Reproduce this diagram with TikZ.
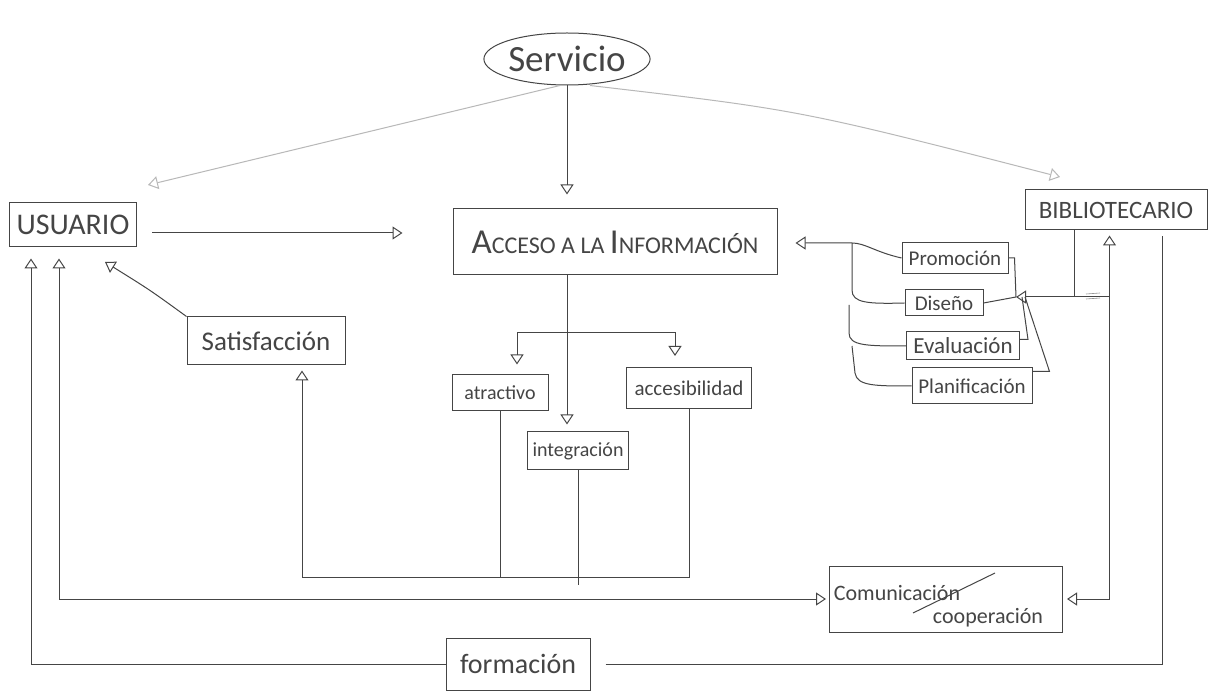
\documentclass[tikz,border=0pt]{standalone}
\usepackage{fontspec}
\setmainfont{Carlito}
\usetikzlibrary{arrows.meta,shapes.geometric}
\definecolor{pencil}{HTML}{454545}
\definecolor{faint}{HTML}{B8B8B8}
\begin{document}
\begin{tikzpicture}[x=1pt,y=-1pt,
  box/.style={draw=pencil,line width=1pt,rectangle,inner sep=0pt,text=pencil},
  wire/.style={draw=pencil,line width=1pt},
  ghost/.style={draw=faint,line width=1pt},
  tip/.style={-{Triangle[open,length=10pt,width=13pt]}},
  tips/.style={{Triangle[open,length=10pt,width=13pt]}-{Triangle[open,length=10pt,width=13pt]}},
  fs/.style={font=\fontsize{#1}{#1}\selectfont}
]
\fill[white] (0,0) rectangle (1211,692);
\useasboundingbox (0,0) rectangle (1211,692);

% ---------- nodes ----------
\node[draw=pencil,line width=1pt,ellipse,minimum width=166pt,minimum height=52pt,
      inner sep=0pt,fs=37,text=pencil] (serv) at (567,59) {Servicio};
\node[box,minimum width=324pt,minimum height=66pt] (acc) at (615,242)
  {\fontsize{35}{35}\selectfont A\fontsize{24}{24}\selectfont CCESO A LA
   \fontsize{35}{35}\selectfont I\fontsize{24}{24}\selectfont NFORMACIÓN};
\node[box,minimum width=127pt,minimum height=44pt,fs=30] (usu) at (73,225) {USUARIO};
\node[box,minimum width=182pt,minimum height=40pt,fs=25] (bib) at (1116,210) {BIBLIOTECARIO};
\node[box,minimum width=158pt,minimum height=48pt,fs=27] (sat) at (266,341) {Satisfacción};
\node[box,minimum width=96pt,minimum height=36pt,fs=20] (atr) at (500,393) {atractivo};
\node[box,minimum width=125pt,minimum height=41pt,fs=21] (acs) at (689,388) {accesibilidad};
\node[box,minimum width=101pt,minimum height=38pt,fs=20] (intg) at (578,451) {integración};
\node[box,minimum width=106pt,minimum height=31pt,fs=21] (prom) at (955,258) {Promoción};
\node[box,minimum width=78pt,minimum height=26pt,fs=21] (dis) at (944,303) {Diseño};
\node[box,minimum width=113pt,minimum height=28pt,fs=23] (eva) at (963,346) {Evaluación};
\node[box,minimum width=120pt,minimum height=36pt,fs=21] (plan) at (972,386) {Planificación};
\node[box,minimum width=233pt,minimum height=66pt] (com) at (946,599) {};
\node[fs=22,text=pencil,inner sep=0pt] (comA) at (897,593) {Comunicación};
\node[fs=22,text=pencil,inner sep=0pt] (comB) at (988,618) {cooperación};
\node[box,minimum width=144pt,minimum height=52pt,fs=28] (form) at (518,664) {formación};

% ---------- Servicio and its three branches ----------
\coordinate (usuTop) at (148,185);
\coordinate (bibTop) at (1060,177);
\draw[ghost,tip] ([xshift=-7pt]serv.south) -- (usuTop);
\draw[ghost,tip] ([xshift=23pt]serv.south) .. controls (800,110) .. (bibTop);
\draw[wire,tip,shorten >=14pt] (serv.south) -- (serv.south |- acc.north);

% ---------- USUARIO ----------
\draw[wire,tip,shorten <=15pt,shorten >=50pt] ([yshift=-8pt]usu.east) -- ([yshift=-8pt]usu.east -| acc.west);
\coordinate (usuSat) at (105,262);
\draw[wire,tip] (sat.north west) .. controls (150,290) .. (usuSat);
\draw[wire,tip,shorten >=11pt] (form.west) -| ([xshift=22pt]usu.south west);
\draw[wire,tips,shorten <=11pt,shorten >=3pt] ([xshift=50pt]usu.south west) |- (com.west);

% ---------- Acceso a la información: fork and return bus ----------
\coordinate (fork) at (0,333);
\coordinate (bus) at (0,577);
\draw[wire,tip,shorten >=7pt] (serv.south |- acc.south) -- (serv.south |- intg.north);
\draw[wire,tip,shorten >=10pt] (serv.south |- fork) -| ([xshift=17pt]atr.north);
\draw[wire,tip,shorten >=11pt] (serv.south |- fork) -| ([xshift=-14pt]acs.north);
\draw[wire,tip,shorten >=5pt] (acs.south) -- (acs.south |- bus) -| ([xshift=36pt]sat.south);
\draw[wire] (atr.south) -- (atr.south |- bus);
\draw[wire] (intg.south) -- ([yshift=-8pt]intg.south |- bus);

% ---------- activity group ----------
\coordinate (brk) at (852,243);
\draw[wire,tip,shorten >=18pt] (prom.west) .. controls (875,252) and (865,243) .. (brk) -- (acc.east |- brk);
\draw[wire] (brk) -- (852,290) .. controls (852,303) and (868,304) .. (dis.west);
\draw[wire] (849,305) -- (849,333) .. controls (849,346) and (868,346) .. (eva.west);
\draw[wire] (852,346) -- (855,373) .. controls (857,386) and (875,386) .. (plan.west);

\coordinate (grp) at (1016,297);
\draw[wire,tip] ([xshift=50pt]bib.south west) |- (grp);
\draw[wire] ([xshift=50pt]bib.south west |- grp) -- ([xshift=85pt]bib.south west |- grp);
\draw[pencil!60,line width=0.6pt] (1086,294) -- (1100,293) (1086,299) -- (1100,298);
\draw[wire] (prom.east) -- ++(6,0) -- (grp);
\draw[wire] (dis.east) -- (grp);
\draw[wire] ([yshift=-8pt]eva.north east) -- ++(8,0) -- ([xshift=6pt]grp);
\draw[wire] ([yshift=-4pt]plan.north east) -- ++(17,0) -- ([xshift=9pt]grp);

% ---------- BIBLIOTECARIO to Comunicación and formación ----------
\draw[wire,tips,shorten <=5pt,shorten >=4pt] ([xshift=85pt]bib.south west) |- (com.east);
\draw[wire,shorten <=15pt,shorten >=6pt] (form.east) -| ([xshift=138pt]bib.south west);

% slash between the two words
\draw[wire] ([xshift=-33pt,yshift=-14pt]com.center) -- ([xshift=49pt,yshift=26pt]com.center);
\end{tikzpicture}
\end{document}
